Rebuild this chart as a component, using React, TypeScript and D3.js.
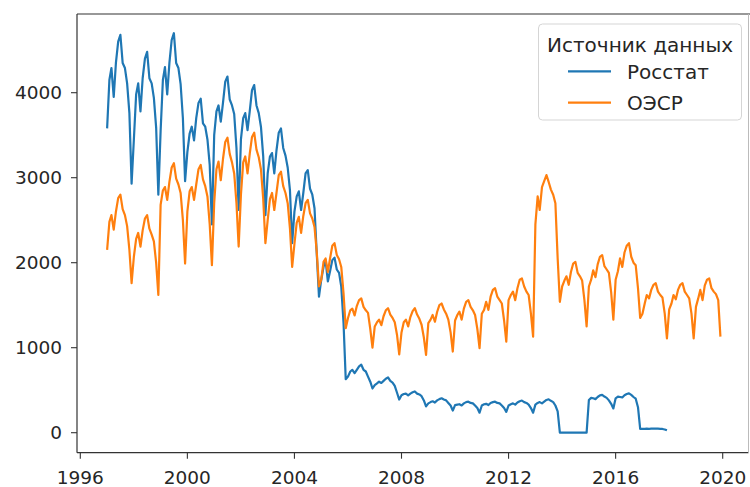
import React from 'react';
import * as d3 from 'd3';

// Monthly series, January 1997 onward (one row per year).
const startYear = 1997;

const rosstat: number[] = [
  3580, 4150, 4290, 3950, 4350, 4600, 4680, 4350, 4290, 4110, 3760, 2930, // 1997
  3450, 3980, 4110, 3780, 4170, 4400, 4480, 4170, 4110, 3940, 3590, 2800, // 1998
  3550, 4150, 4300, 3980, 4350, 4620, 4700, 4350, 4290, 4100, 3700, 2960, // 1999
  3300, 3520, 3600, 3440, 3700, 3880, 3930, 3640, 3600, 3450, 3150, 2450, // 2000
  3500, 3780, 3850, 3660, 3880, 4130, 4190, 3920, 3850, 3750, 3350, 2620, // 2001
  3450, 3700, 3760, 3560, 3780, 4030, 4090, 3850, 3760, 3600, 3250, 2560, // 2002
  3050, 3250, 3290, 3050, 3320, 3530, 3580, 3350, 3260, 3120, 2850, 2230, // 2003
  2600, 2780, 2840, 2620, 2820, 3050, 3090, 2870, 2800, 2640, 2100, 1600, // 2004
  1800, 1950, 2030, 1780, 1900, 2030, 2060, 1920, 1880, 1720, 1290, 630, // 2005
  660, 720, 740, 700, 740, 780, 800, 740, 720, 660, 600, 520, // 2006
  560, 580, 600, 585, 610, 635, 650, 610, 590, 550, 470, 390, // 2007
  440, 455, 460, 440, 460, 475, 485, 460, 450, 430, 380, 310, // 2008
  345, 360, 370, 355, 380, 395, 405, 390, 380, 350, 320, 260, // 2009
  325, 330, 335, 320, 345, 360, 365, 350, 345, 320, 290, 235, // 2010
  320, 335, 340, 325, 350, 360, 365, 350, 345, 320, 290, 245, // 2011
  320, 335, 345, 330, 355, 370, 378, 360, 350, 330, 290, 235, // 2012
  330, 350, 360, 345, 365, 385, 393, 375, 360, 320, 250, 0, // 2013
  0, 0, 0, 0, 0, 0, 0, 0, 0, 0, 0, 0, // 2014
  385, 410, 405, 395, 420, 440, 445, 425, 410, 380, 340, 285, // 2015
  405, 424, 420, 415, 440, 455, 463, 445, 420, 400, 300, 45, // 2016
  45, 45, 47, 46, 47, 48, 48, 47, 46, 44, 38, 28, // 2017
];

const oecd: number[] = [
  2150, 2480, 2560, 2390, 2600, 2760, 2800, 2630, 2560, 2430, 2150, 1760, // 1997
  2070, 2280, 2350, 2190, 2380, 2520, 2560, 2400, 2330, 2250, 2000, 1620, // 1998
  2680, 2850, 2890, 2740, 2950, 3120, 3170, 2990, 2920, 2820, 2500, 1990, // 1999
  2600, 2840, 2890, 2740, 2920, 3100, 3150, 2980, 2900, 2780, 2450, 1970, // 2000
  2700, 3100, 3190, 2970, 3220, 3420, 3470, 3280, 3180, 3050, 2700, 2190, // 2001
  2800, 3180, 3250, 3050, 3280, 3480, 3530, 3330, 3240, 3100, 2750, 2230, // 2002
  2500, 2750, 2820, 2620, 2820, 3030, 3070, 2900, 2820, 2700, 2400, 1950, // 2003
  2220, 2470, 2540, 2350, 2550, 2700, 2740, 2580, 2520, 2420, 2120, 1720, // 2004
  1800, 2010, 2050, 1890, 2050, 2200, 2230, 2090, 2040, 1950, 1640, 1230, // 2005
  1350, 1440, 1460, 1380, 1490, 1560, 1580, 1480, 1440, 1410, 1220, 1000, // 2006
  1250, 1300, 1330, 1265, 1370, 1440, 1465, 1390, 1350, 1300, 1150, 920, // 2007
  1180, 1300, 1330, 1250, 1360, 1430, 1465, 1390, 1340, 1270, 1120, 915, // 2008
  1290, 1330, 1385, 1305, 1420, 1500, 1520, 1450, 1400, 1330, 1180, 955, // 2009
  1320, 1385, 1425, 1330, 1460, 1540, 1560, 1480, 1440, 1385, 1220, 995, // 2010
  1400, 1445, 1540, 1445, 1600, 1680, 1700, 1600, 1560, 1520, 1320, 1070, // 2011
  1560, 1620, 1660, 1560, 1700, 1800, 1815, 1720, 1660, 1620, 1400, 1130, // 2012
  2450, 2780, 2620, 2890, 2960, 3030, 2950, 2860, 2800, 2700, 2050, 1540, // 2013
  1720, 1790, 1840, 1740, 1890, 1990, 2010, 1880, 1840, 1790, 1560, 1250, // 2014
  1720, 1800, 1910, 1830, 1980, 2070, 2090, 1960, 1920, 1880, 1650, 1330, // 2015
  1800, 1900, 2050, 1950, 2120, 2200, 2230, 2070, 2000, 1970, 1700, 1350, // 2016
  1400, 1520, 1620, 1580, 1680, 1740, 1760, 1660, 1620, 1590, 1400, 1110, // 2017
  1450, 1520, 1620, 1570, 1680, 1740, 1760, 1660, 1620, 1580, 1400, 1110, // 2018
  1480, 1580, 1680, 1560, 1730, 1800, 1815, 1700, 1660, 1630, 1560, 1130, // 2019
];

const xTickYears: number[] = [1996, 2000, 2004, 2008, 2012, 2016, 2020];
const yTickValues: number[] = [0, 1000, 2000, 3000, 4000];

const legendTitle = 'Источник данных';
const seriesNames: string[] = ['Росстат', 'ОЭСР'];
const seriesColors: string[] = ['#1f77b4', '#ff7f0e'];

const W = 750;
const H = 487;
const FONT = '"DejaVu Sans", Verdana, sans-serif';
const TEXT = '#262626';
const TICK_FONT = 18.5;
const LEGEND_FONT = 20;

// plot frame
const frame = { left: 77, right: 748.5, top: 14, bottom: 452.7 };

export default function App() {
  const x = d3
    .scaleTime()
    .domain([new Date(1996, 0, 1), new Date(2020, 0, 1)])
    .range([80.3, 722.7]);
  const y = d3.scaleLinear().domain([0, 4000]).range([432.7, 92.7]);

  type Pt = [Date, number];
  const toPoints = (vals: number[]): Pt[] =>
    vals.map((v, i) => [new Date(startYear, i, 1), v] as Pt);

  const line = d3
    .line<Pt>()
    .x((d) => x(d[0]))
    .y((d) => y(d[1]));

  const series = [toPoints(rosstat), toPoints(oecd)];

  const lg = { x: 538.5, y: 24, w: 203, h: 96 };

  return (
    <div style={{ position: 'absolute', left: 0, top: 0 }}>
      <svg width={W} height={H} style={{ display: 'block', background: '#fff' }} fontFamily={FONT}>
        <defs>
          <clipPath id="plotClip">
            <rect x={frame.left} y={frame.top} width={frame.right - frame.left} height={frame.bottom - frame.top} />
          </clipPath>
        </defs>

        {/* data lines */}
        <g clipPath="url(#plotClip)">
          {series.map((pts, i) => (
            <path
              key={seriesNames[i]}
              d={line(pts) || ''}
              fill="none"
              stroke={seriesColors[i]}
              strokeWidth={2.2}
              strokeLinejoin="round"
              strokeLinecap="butt"
            />
          ))}
        </g>

        {/* frame */}
        <line x1={frame.left} x2={frame.left} y1={frame.top} y2={frame.bottom} stroke="#333" strokeWidth={1.2} />
        <line x1={frame.left} x2={frame.right} y1={frame.bottom} y2={frame.bottom} stroke="#333" strokeWidth={1.2} />
        <line x1={frame.left} x2={W} y1={frame.top} y2={frame.top} stroke="#333" strokeWidth={1.2} />
        <line x1={frame.right} x2={frame.right} y1={frame.top} y2={frame.bottom} stroke="#bbb" strokeWidth={1} />

        {/* y axis */}
        {yTickValues.map((v) => (
          <g key={v}>
            <line x1={frame.left - 6} x2={frame.left} y1={y(v)} y2={y(v)} stroke="#333" strokeWidth={1.1} />
            <text x={62} y={y(v) + 6.7} textAnchor="end" fontSize={TICK_FONT} fill={TEXT}>
              {v}
            </text>
          </g>
        ))}

        {/* x axis */}
        {xTickYears.map((yr) => {
          const px = x(new Date(yr, 0, 1));
          return (
            <g key={yr}>
              <line x1={px} x2={px} y1={frame.bottom} y2={frame.bottom + 6} stroke="#333" strokeWidth={1.1} />
              <text x={px} y={484} textAnchor="middle" fontSize={TICK_FONT} fill={TEXT}>
                {yr}
              </text>
            </g>
          );
        })}

        {/* legend */}
        <g>
          <rect
            x={lg.x}
            y={lg.y}
            width={lg.w}
            height={lg.h}
            rx={4}
            fill="#fff"
            fillOpacity={0.8}
            stroke="#d5d5d5"
            strokeWidth={1}
          />
          <text x={lg.x + lg.w / 2} y={51.5} textAnchor="middle" fontSize={LEGEND_FONT} fill={TEXT}>
            {legendTitle}
          </text>
          {seriesNames.map((name, i) => {
            const cy = 71.3 + i * 31.4;
            return (
              <g key={name}>
                <line x1={568} x2={611} y1={cy} y2={cy} stroke={seriesColors[i]} strokeWidth={2.2} />
                <text x={627} y={cy + 7.2} fontSize={LEGEND_FONT} fill={TEXT}>
                  {name}
                </text>
              </g>
            );
          })}
        </g>
      </svg>
    </div>
  );
}
